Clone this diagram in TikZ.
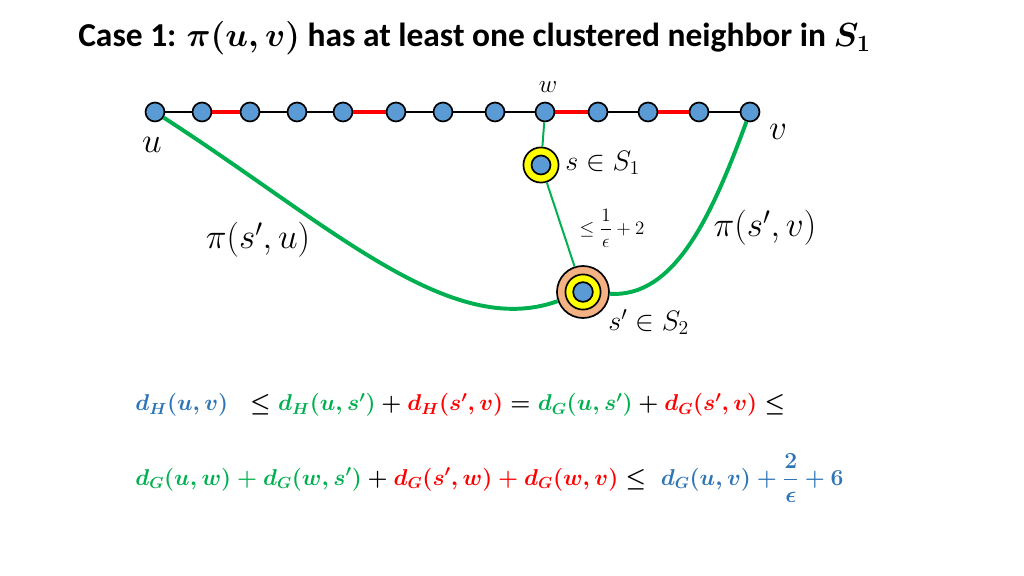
\documentclass[tikz,border=0pt]{standalone}
\usepackage{fix-cm}
\usepackage{fontspec}
\setmainfont{Carlito}
\usepackage{amsmath,bm}
\definecolor{vblue}{RGB}{91,155,213}
\definecolor{pgreen}{RGB}{0,176,80}
\definecolor{eblue}{RGB}{46,117,182}
\definecolor{sorange}{RGB}{244,177,131}
\definecolor{syellow}{RGB}{255,255,0}
\tikzset{
  vertex/.style={circle,draw=black,fill=vblue,line width=1.2pt,minimum size=13.5pt,inner sep=0pt},
  snode/.style={circle,draw=black,fill=syellow,line width=1.2pt,minimum size=25pt,inner sep=0pt},
  spnode/.style={circle,draw=black,fill=sorange,line width=1.2pt,minimum size=37pt,inner sep=0pt},
  thinedge/.style={line width=1.6pt},
  redge/.style={red,line width=3pt},
  lbl/.style={font=\fontsize{20}{24}\selectfont,inner sep=0pt},
  biglbl/.style={font=\fontsize{25}{30}\selectfont,inner sep=0pt},
  eqn/.style={anchor=west,inner sep=0pt,font=\fontsize{16.3}{20}\selectfont}
}
\newcommand{\tg}[1]{\textcolor{pgreen}{#1}}
\newcommand{\tr}[1]{\textcolor{red}{#1}}
\newcommand{\tb}[1]{\textcolor{eblue}{#1}}
\begin{document}
\begin{tikzpicture}[x=0.025cm,y=-0.025cm]
    \useasboundingbox (0,0) rectangle (1024,576);

    % Title
    \node[anchor=west,font=\fontsize{23.8}{28}\selectfont\bfseries,inner sep=0pt] (title) at (78,38)
      {Case 1: {\boldmath$\pi(u,v)$} has at least one clustered neighbor in {\boldmath$S_1$}};

    % Path u -- v
    \foreach \i/\x in {0/155,1/202,2/250,3/297,4/343,5/396,6/443,7/495,8/545,9/598,10/648,11/699,12/750}
      \node[vertex] (p\i) at (\x,112) {};
    \foreach \i/\j/\e in {0/1/thinedge,1/2/redge,2/3/thinedge,3/4/thinedge,4/5/redge,5/6/thinedge,
                          6/7/thinedge,7/8/thinedge,8/9/redge,9/10/thinedge,10/11/redge,11/12/thinedge}
      \draw[\e] (p\i) -- (p\j);

    % Cluster centers
    \node[snode] (s) at (541,165) {};
    \node[vertex] (s-in) at (s) {};
    \node[spnode] (sp) at (583,292) {};
    \node[snode] (sp-mid) at (sp) {};
    \node[vertex,minimum size=14pt] (sp-in) at (sp) {};

    % Green paths
    \draw[pgreen,line width=1.4pt] (p8) -- (s);
    \draw[pgreen,line width=1.4pt] (s) -- (sp);
    \draw[pgreen,line width=2.8pt] (p0) .. controls (330,225) and (450,340) .. (sp);
    \draw[pgreen,line width=2.8pt] (sp) .. controls (675,298) and (712,215) .. (p12);

    % Labels
    \node[lbl,font=\fontsize{18}{22}\selectfont] (lw) at (548,87) {$w$};
    \node[biglbl] (lu) at (152,145) {$u$};
    \node[biglbl] (lv) at (778,132) {$v$};
    \node[lbl,anchor=west] (ls) at (565,163) {$s\in S_1$};
    \node[inner sep=0pt,font=\fontsize{13.5}{16}\selectfont] (ld) at (612,228) {$\le\dfrac{1}{\epsilon}+2$};
    \node[biglbl] (lpv) at (765,228) {$\pi(s',v)$};
    \node[biglbl] (lpu) at (258,240) {$\pi(s',u)$};
    \node[lbl,anchor=west] (lsp) at (608,322) {$s'\in S_2$};

    % Inequalities
    \node[eqn] (eq1) at (135,405) {{\boldmath$\tb{d_H(u,v)}\;\;\le\tg{d_H(u,s')}+\tr{d_H(s',v)}=\tg{d_G(u,s')}+\tr{d_G(s',v)}\le$}};
    \node[eqn] (eq2) at (135,478) {{\boldmath$\tg{d_G(u,w)+d_G(w,s')}+\tr{d_G(s',w)+d_G(w,v)}\le\;\tb{d_G(u,v)+\dfrac{2}{\epsilon}+6}$}};

\end{tikzpicture}
\end{document}
